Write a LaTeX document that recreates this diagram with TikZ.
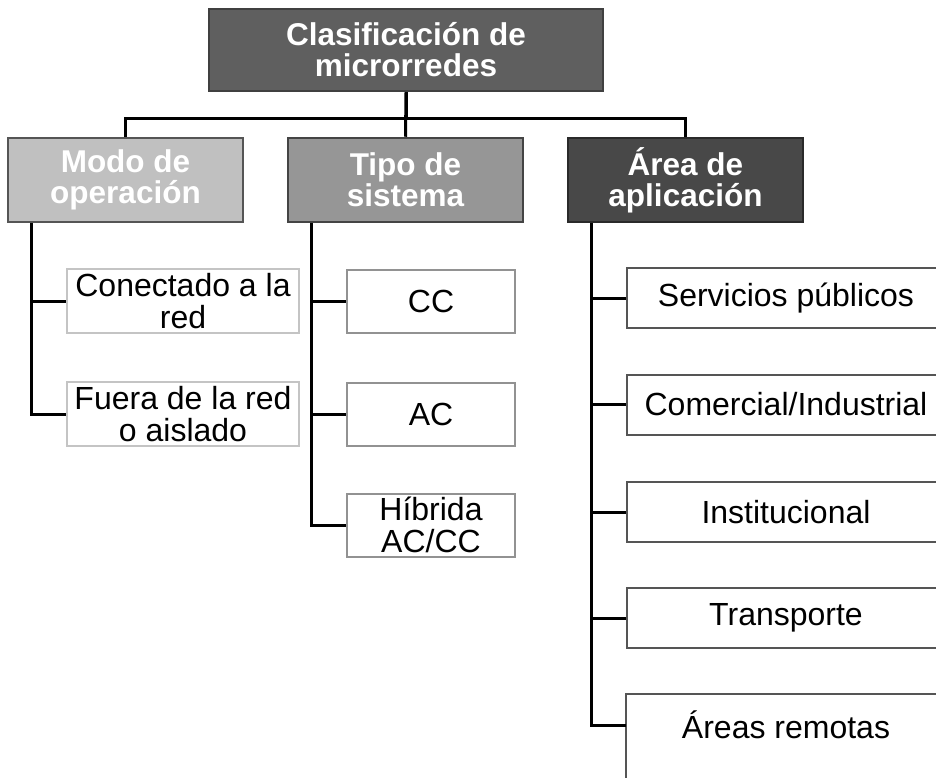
\documentclass[tikz,border=0pt]{standalone}
\usepackage{fontspec}
\setmainfont{Liberation Sans}
\definecolor{rootfill}{HTML}{5F5F5F}
\definecolor{rootline}{HTML}{404040}
\definecolor{modofill}{HTML}{C0C0C0}
\definecolor{modoline}{HTML}{555555}
\definecolor{tipofill}{HTML}{969696}
\definecolor{tipoline}{HTML}{444444}
\definecolor{areafill}{HTML}{484848}
\definecolor{arealine}{HTML}{2A2A2A}
\definecolor{modoedge}{HTML}{C4C4C4}
\definecolor{tipoedge}{HTML}{929292}
\definecolor{areaedge}{HTML}{555555}
\tikzset{
  link/.style={line width=3pt},
  headbox/.style={line width=2.5pt, inner sep=0pt, align=center, text=white,
    font=\bfseries\fontsize{31.5}{31}\selectfont},
  itembox/.style={line width=2pt, inner sep=0pt, align=center,
    font=\fontsize{32}{32}\selectfont},
  rootbox/.style={headbox, draw=rootline, fill=rootfill, minimum width=394, minimum height=82},
  modobox/.style={headbox, draw=modoline, fill=modofill, minimum width=235, minimum height=84},
  tipobox/.style={headbox, draw=tipoline, fill=tipofill, minimum width=235, minimum height=84},
  areabox/.style={headbox, draw=arealine, fill=areafill, minimum width=235, minimum height=84},
  modoitem/.style={itembox, draw=modoedge, minimum width=232, minimum height=64},
  tipoitem/.style={itembox, draw=tipoedge, minimum width=168, minimum height=63},
  areaitem/.style={itembox, draw=areaedge, minimum width=318, minimum height=60},
}
\begin{document}
\begin{tikzpicture}[x=1pt,y=-1pt]
  \clip (0,0) rectangle (936,778);
  \node (root) [rootbox] at (406,50) {Clasificación de\\microrredes};
  \node (modo) [modobox] at (125.5,180) {Modo de\\operación};
  \node (tipo) [tipobox] at (405.5,180) {Tipo de\\sistema};
  \node (area) [areabox] at (685.5,180) {Área de\\aplicación};

  \node (con) [modoitem] at (183,301) {Conectado a la\\red};
  \node (fue) [modoitem] at (183,414) {Fuera de la red\\o aislado};

  \node (cc) [tipoitem] at (431,301.5) {CC};
  \node (ac) [tipoitem] at (431,414) {AC};
  \node (hib) [tipoitem] at (431,525) {Híbrida\\AC/CC};

  \node (ser) [areaitem] at (786,298) {Servicios públicos};
  \node (com) [areaitem] at (786,404.5) {Comercial/Industrial};
  \node (ins) [areaitem] at (786,512) {Institucional};
  \node (tra) [areaitem] at (786,618) {Transporte};
  \node (rem) [areaitem, draw=none] at (786,725) {Áreas remotas};
  \draw[itembox, draw=areaedge] ([yshift=-40pt]rem.south west) -- (rem.north west)
    -- (rem.north east) -- ([yshift=-40pt]rem.south east);

  \begin{scope}[link]
    \draw (root.south) -- ++(0,26) -| (modo.north);
    \draw (root.south) -- (tipo.north);
    \draw (root.south) -- ++(0,26) -| (area.north);

    \draw ([xshift=25pt]modo.south west) |- (con.west);
    \draw ([xshift=25pt]modo.south west) |- (fue.west);

    \draw ([xshift=25pt]tipo.south west) |- (cc.west);
    \draw ([xshift=25pt]tipo.south west) |- (ac.west);
    \draw ([xshift=25pt]tipo.south west) |- (hib.west);

    \draw ([xshift=25pt]area.south west) |- (ser.west);
    \draw ([xshift=25pt]area.south west) |- (com.west);
    \draw ([xshift=25pt]area.south west) |- (ins.west);
    \draw ([xshift=25pt]area.south west) |- (tra.west);
    \draw ([xshift=25pt]area.south west) |- (rem.west);
  \end{scope}
\end{tikzpicture}
\end{document}
